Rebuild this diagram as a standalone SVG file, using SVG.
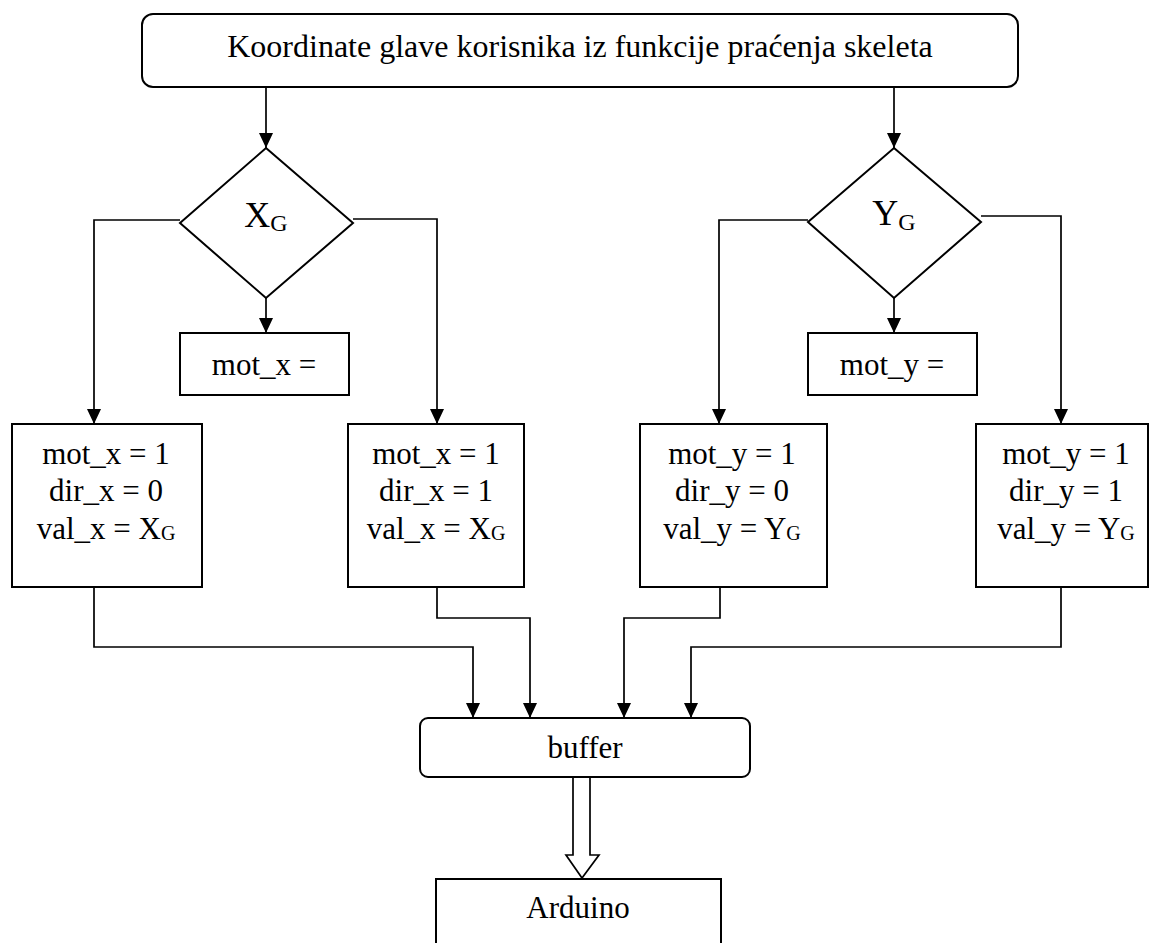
<svg xmlns="http://www.w3.org/2000/svg" width="1151" height="943" viewBox="0 0 1151 943">
<style>
.box{fill:#fff;stroke:#000;stroke-width:2}
.ln{fill:none;stroke:#000;stroke-width:1.7}
.t{font-family:"Liberation Serif","Times New Roman",serif;fill:#000;text-anchor:middle}
.b{font-size:31px}
</style>
<defs>
<marker id="ah" viewBox="0 0 15 14" refX="15" refY="7" markerWidth="15" markerHeight="14" markerUnits="userSpaceOnUse" orient="auto">
<path d="M0,0 L15,7 L0,14 z" fill="#000"/>
</marker>
</defs>
<rect width="1151" height="943" fill="#fff"/>
<g id="connectors">
<path class="ln" d="M266,87 V148" marker-end="url(#ah)"/>
<path class="ln" d="M894,87 V148" marker-end="url(#ah)"/>
<path class="ln" d="M180,220 H94 V424" marker-end="url(#ah)"/>
<path class="ln" d="M353,219 H437 V424" marker-end="url(#ah)"/>
<path class="ln" d="M266,298 V333" marker-end="url(#ah)"/>
<path class="ln" d="M808,220 H719 V424" marker-end="url(#ah)"/>
<path class="ln" d="M981,216 H1061 V424" marker-end="url(#ah)"/>
<path class="ln" d="M894,298 V333" marker-end="url(#ah)"/>
<path class="ln" d="M94,587 V647 H473 V718" marker-end="url(#ah)"/>
<path class="ln" d="M437,587 V618 H530 V718" marker-end="url(#ah)"/>
<path class="ln" d="M720,587 V618 H624 V718" marker-end="url(#ah)"/>
<path class="ln" d="M1061,587 V647 H691 V718" marker-end="url(#ah)"/>
<path class="ln" d="M573,777 V855 H566 L582,878 L599,855 H590 V777" fill="#fff"/>
</g>
<g id="start">
<rect class="box" x="142" y="14" width="876" height="73" rx="11"/>
<text class="t" x="580" y="57" font-size="32">Koordinate glave korisnika iz funkcije praćenja skeleta</text>
</g>
<g id="decisionX">
<polygon class="box" points="266,148 353,223 266,298 180,223"/>
<text class="t" x="266" y="227" font-size="36">X<tspan font-size="24" dy="4">G</tspan></text>
</g>
<g id="decisionY">
<polygon class="box" points="894,148 981,222 894,298 808,222"/>
<text class="t" x="894" y="225" font-size="36">Y<tspan font-size="24" dy="5">G</tspan></text>
</g>
<g id="motx0">
<rect class="box" x="180" y="333" width="169" height="62"/>
<text class="t b" x="264" y="375">mot_x =</text>
</g>
<g id="moty0">
<rect class="box" x="808" y="333" width="169" height="62"/>
<text class="t b" x="892" y="375">mot_y =</text>
</g>
<g id="box1">
<rect class="box" x="12" y="424" width="190" height="163"/>
<text class="t b" x="106" y="464">mot_x = 1</text>
<text class="t b" x="106" y="501">dir_x = 0</text>
<text class="t b" x="106" y="539">val_x = X<tspan font-size="20" dy="1">G</tspan></text>
</g>
<g id="box2">
<rect class="box" x="348" y="424" width="176" height="163"/>
<text class="t b" x="436" y="464">mot_x = 1</text>
<text class="t b" x="436" y="501">dir_x = 1</text>
<text class="t b" x="436" y="539">val_x = X<tspan font-size="20" dy="1">G</tspan></text>
</g>
<g id="box3">
<rect class="box" x="640" y="424" width="187" height="163"/>
<text class="t b" x="732" y="464">mot_y = 1</text>
<text class="t b" x="732" y="501">dir_y = 0</text>
<text class="t b" x="732" y="539">val_y = Y<tspan font-size="20" dy="1">G</tspan></text>
</g>
<g id="box4">
<rect class="box" x="976" y="424" width="172" height="163"/>
<text class="t b" x="1066" y="464">mot_y = 1</text>
<text class="t b" x="1066" y="501">dir_y = 1</text>
<text class="t b" x="1066" y="539">val_y = Y<tspan font-size="20" dy="1">G</tspan></text>
</g>
<g id="buffer">
<rect class="box" x="420" y="718" width="330" height="59" rx="8"/>
<text class="t" x="585" y="758" font-size="31">buffer</text>
</g>
<g id="arduino">
<rect class="box" x="436" y="879" width="285" height="90"/>
<text class="t" x="578" y="918" font-size="31">Arduino</text>
</g>
</svg>
